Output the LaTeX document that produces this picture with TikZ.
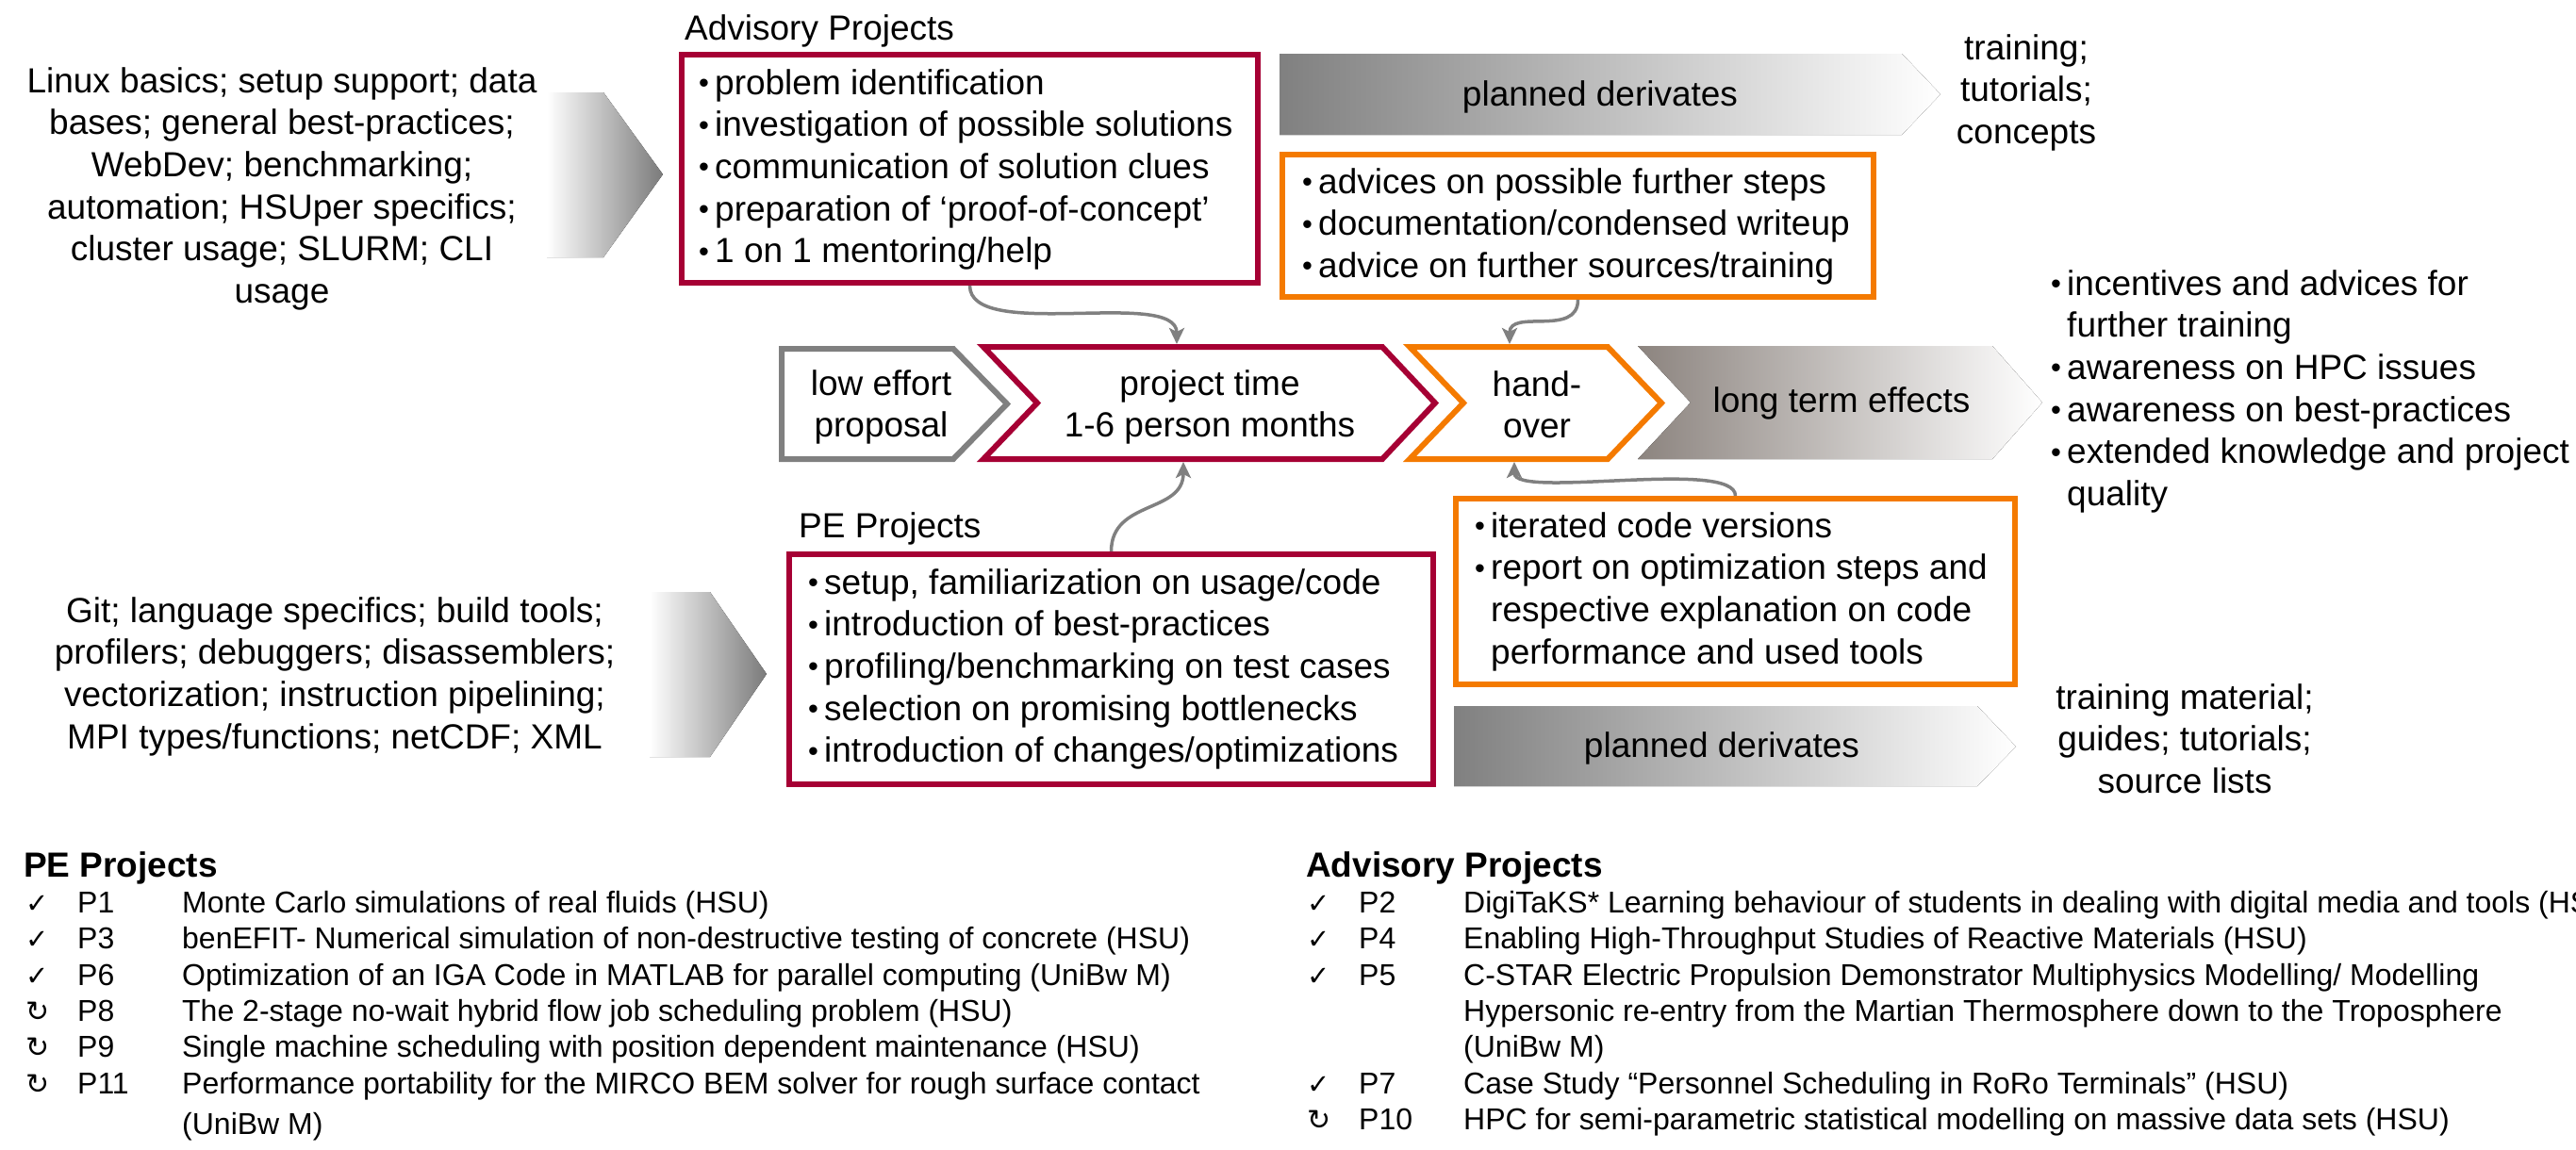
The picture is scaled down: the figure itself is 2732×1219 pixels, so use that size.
\documentclass[tikz,border=0pt]{standalone}
\usepackage{fontspec}
\setmainfont{Liberation Sans}
\newfontfamily\symfont{DejaVu Sans}
\usetikzlibrary{arrows.meta}

\definecolor{hsured}{RGB}{166,0,52}
\definecolor{hsuorange}{RGB}{244,122,0}
\definecolor{framegray}{RGB}{128,128,128}
\definecolor{warmgray}{RGB}{140,132,127}

% type sizes (1pt = one unit of the drawing grid)
\newcommand\mainsize{\fontsize{37}{44.6}\selectfont}
\newcommand\listsize{\fontsize{32}{38.4}\selectfont}
% bullet with a fixed advance, as in the slide bullets
\newcommand\bul{\makebox[17pt][l]{\fontsize{31}{31}\selectfont\raisebox{1.5pt}{•}}}
\newcommand\ind{\hspace*{17pt}}
% project list columns: status mark, project id
\newcommand\doneMark{\makebox[55pt][l]{\symfont\fontsize{29}{29}\selectfont ✓}}
\newcommand\runMark{\makebox[55pt][l]{\symfont\fontsize{30}{30}\selectfont ↻}}
\newcommand\pid[1]{\makebox[111pt][l]{#1}}

\begin{document}
\begin{tikzpicture}[x=1pt, y=-1pt, line join=miter,
  redbox/.style={draw=hsured, line width=6pt, fill=white, inner sep=0pt},
  orangebox/.style={draw=hsuorange, line width=6pt, fill=white, inner sep=0pt},
  redchev/.style={draw=hsured, line width=6pt, fill=white},
  orangechev/.style={draw=hsuorange, line width=6pt, fill=white},
  graychev/.style={draw=framegray, line width=6pt, fill=white},
  infeed/.style={left color=white, right color=black!52},
  derivband/.style={left color=framegray, right color=white},
  effectband/.style={left color=warmgray, right color=white},
  conn/.style={draw=framegray, line width=3.5pt,
    -{Stealth[length=17pt, width=16pt, inset=4pt]}},
  txt/.style={inner sep=0pt, font=\mainsize, text=black},
  ltxt/.style={txt, align=left},
  ctxt/.style={txt, align=center},
  listtxt/.style={inner sep=0pt, font=\listsize, align=left, text=black},
  head/.style={inner sep=0pt, font=\fontsize{37}{44.6}\selectfont\bfseries}]

\useasboundingbox (0,0) rectangle (2732,1219);
\fill[white] (0,0) rectangle (2732,1219);

% ---------- input arrows on the left ----------
\fill[infeed] (580,98) -- (640,98) -- (703,185) -- (640,273) -- (580,273) -- cycle;
\fill[infeed] (689,628) -- (753,628) -- (813,715) -- (753,803) -- (689,803) -- cycle;

\node[ctxt, anchor=north] (advtopics) at (299,66.8)
  {\strut Linux basics; setup support; data\\bases; general best-practices;\\WebDev; benchmarking;\\automation; HSUper specifics;\\cluster usage; SLURM; CLI\\usage};
\node[ctxt, anchor=north] (petopics) at (355,628.8)
  {\strut Git; language specifics; build tools;\\profilers; debuggers; disassemblers;\\vectorization; instruction pipelining;\\MPI types/functions; netCDF; XML};

% ---------- project boxes ----------
\node[txt, anchor=base west] (advlabel) at (726,42) {Advisory Projects};
\node[redbox, minimum width=611pt, minimum height=242pt] (adv) at (1028.5,179) {};
\node[ltxt, anchor=north west] (advtext) at (741,68.8)
  {\strut\bul problem identification\\\bul investigation of possible solutions\\\bul communication of solution clues\\\bul preparation of ‘proof-of-concept’\\\bul 1 on 1 mentoring/help};

\node[txt, anchor=base west] (pelabel) at (847,570) {PE Projects};
\node[redbox, minimum width=683pt, minimum height=244pt] (pe) at (1178.5,710) {};
\node[ltxt, anchor=north west] (petext) at (857,598.8)
  {\strut\bul setup, familiarization on usage/code\\\bul introduction of best-practices\\\bul profiling/benchmarking on test cases\\\bul selection on promising bottlenecks\\\bul introduction of changes/optimizations};

% ---------- hand-over content boxes ----------
\node[orangebox, minimum width=627pt, minimum height=151pt] (advout) at (1673.5,239.5) {};
\node[ltxt, anchor=north west] (advouttext) at (1381,173.8)
  {\strut\bul advices on possible further steps\\\bul documentation/condensed writeup\\\bul advice on further sources/training};

\node[orangebox, minimum width=593pt, minimum height=197pt] (peout) at (1840.5,627.5) {};
\node[ltxt, anchor=north west] (peouttext) at (1564,538.8)
  {\strut\bul iterated code versions\\\bul report on optimization steps and\\\ind respective explanation on code\\\ind performance and used tools};

% ---------- planned derivates ----------
\fill[derivband] (1357,57) -- (2017,57) -- (2058,100) -- (2017,143) -- (1357,143) -- cycle;
\node[txt, anchor=base] (derivtop) at (1697,112) {planned derivates};
\node[ctxt, anchor=north] (derivtopout) at (2149,31.8) {\strut training;\\tutorials;\\concepts};

\fill[derivband] (1542,749) -- (2097,749) -- (2138,792) -- (2097,834) -- (1542,834) -- cycle;
\node[txt, anchor=base] (derivbot) at (1826,803) {planned derivates};
\node[ctxt, anchor=north] (derivbotout) at (2317,720.8) {\strut training material;\\guides; tutorials;\\source lists};

% ---------- process chevrons ----------
\draw[graychev] (829,370) -- (1011,370) -- (1068,428.5) -- (1011,487) -- (829,487) -- cycle;
\node[ctxt, anchor=north] (loweffort) at (934.5,387.8) {\strut low effort\\proposal};

\draw[redchev] (1043,368) -- (1466,368) -- (1522,427.5) -- (1466,487) -- (1043,487) -- (1100,427.5) -- cycle;
\node[ctxt, anchor=north] (ptime) at (1283,387.8) {\strut project time\\1-6 person months};

\draw[orangechev] (1495,368) -- (1705,368) -- (1762,427.5) -- (1705,487) -- (1495,487) -- (1552,427.5) -- cycle;
\node[ctxt, anchor=north] (handover) at (1630,388.8) {\strut hand-\\over};

\fill[effectband] (1737,367) -- (2113,367) -- (2166,427) -- (2113,487) -- (1737,487) -- (1793,427) -- cycle;
\node[txt, anchor=base] (longterm) at (1953,437) {long term effects};

\node[ltxt, anchor=north west] (effects) at (2175,281.8)
  {\strut\bul incentives and advices for\\\ind further training\\\bul awareness on HPC issues\\\bul awareness on best-practices\\\bul extended knowledge and project\\\ind quality};

% connector end points on the chevron borders
\coordinate (ptimetop) at (1248,365);
\coordinate (ptimebot) at (1255,490);
\coordinate (handtop) at (1601,365);
\coordinate (handbot) at (1606,490);

% ---------- connectors ----------
\draw[conn] (adv.south) .. controls +(0,60) and +(0,-60) .. (ptimetop);
\draw[conn] (advout.south) .. controls +(0,40) and +(0,-38) .. (handtop);
\draw[conn] (pe.north) .. controls +(0,-55) and +(0,55) .. (ptimebot);
\draw[conn] (peout.north) .. controls +(0,-40) and +(0,40) .. (handbot);

% ---------- project lists ----------
\node[head, anchor=base west] (pehead) at (25,930) {PE Projects};
\node[listtxt, anchor=north west] (pelist) at (27,941.1)
  {\strut\doneMark\pid{P1}Monte Carlo simulations of real fluids (HSU)\\
   \doneMark\pid{P3}benEFIT- Numerical simulation of non-destructive testing of concrete (HSU)\\
   \doneMark\pid{P6}Optimization of an IGA Code in MATLAB for parallel computing (UniBw M)\\
   \runMark\pid{P8}The 2-stage no-wait hybrid flow job scheduling problem (HSU)\\
   \runMark\pid{P9}Single machine scheduling with position dependent maintenance (HSU)\\
   \runMark\pid{P11}Performance portability for the MIRCO BEM solver for rough surface contact\\[5pt]
   \hspace*{166pt}(UniBw M)};

\node[head, anchor=base west] (advhead) at (1385,930) {Advisory Projects};
\node[listtxt, anchor=north west] (advlist) at (1386,941.1)
  {\strut\doneMark\pid{P2}DigiTaKS* Learning behaviour of students in dealing with digital media and tools (HSU)\\
   \doneMark\pid{P4}Enabling High-Throughput Studies of Reactive Materials (HSU)\\
   \doneMark\pid{P5}C-STAR Electric Propulsion Demonstrator Multiphysics Modelling/ Modelling\\
   \hspace*{166pt}Hypersonic re-entry from the Martian Thermosphere down to the Troposphere\\
   \hspace*{166pt}(UniBw M)\\
   \doneMark\pid{P7}Case Study “Personnel Scheduling in RoRo Terminals” (HSU)\\
   \runMark\pid{P10}HPC for semi-parametric statistical modelling on massive data sets (HSU)};

\end{tikzpicture}
\end{document}
